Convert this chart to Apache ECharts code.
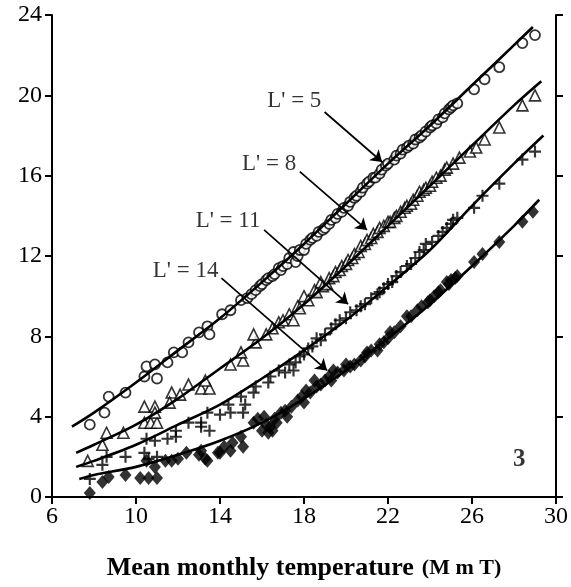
<!DOCTYPE html>
<html><head><meta charset="utf-8">
<script src="https://cdn.jsdelivr.net/npm/echarts@6/dist/echarts.min.js"></script>
<style>html,body{margin:0;padding:0;background:#fff}#c{width:571px;height:587px}</style>
</head><body><div id="c"></div>
<script>
// Tick labels
const xTicks = [6, 10, 14, 18, 22, 26, 30];
const yTicks = [0, 4, 8, 12, 16, 20, 24];

// L' = 5 (open circles)
const circles = [[7.8,3.6],[8.5,4.2],[8.7,5.0],[9.5,5.2],[10.4,6.0],[10.5,6.5],[10.9,6.6],[11.0,5.9],[11.5,6.7],[11.8,7.2],[12.2,7.2],[12.5,7.7],[13.0,8.2],[13.4,8.5],[13.5,8.1],[14.1,9.1],[14.5,9.3],[15.0,9.8],[15.3,9.9],[15.5,10.1],[15.7,10.3],[15.9,10.5],[16.0,10.6],[16.2,10.8],[16.3,10.9],[16.5,11.0],[16.6,11.1],[16.8,11.4],[16.9,11.3],[17.0,11.5],[17.2,11.6],[17.3,11.9],[17.5,12.2],[17.6,11.7],[17.7,12.0],[17.8,12.3],[18.0,12.3],[18.1,12.6],[18.3,12.8],[18.4,12.9],[18.6,13.0],[18.7,13.2],[18.9,13.3],[19.0,13.4],[19.2,13.6],[19.3,13.8],[19.5,13.9],[19.6,14.1],[19.8,14.2],[19.9,14.4],[20.1,14.5],[20.2,14.7],[20.4,14.9],[20.5,15.0],[20.7,15.2],[20.8,15.4],[21.0,15.6],[21.1,15.7],[21.3,15.9],[21.4,15.9],[21.6,16.1],[21.7,16.3],[21.9,16.5],[22.0,16.6],[22.3,16.8],[22.4,17.0],[22.6,17.1],[22.7,17.3],[22.9,17.4],[23.0,17.5],[23.2,17.6],[23.3,17.8],[23.5,17.9],[23.6,18.0],[23.8,18.2],[24.0,18.4],[24.1,18.5],[24.3,18.6],[24.4,18.8],[24.6,18.9],[24.7,19.1],[24.9,19.3],[25.0,19.4],[25.1,19.5],[25.3,19.6],[26.1,20.3],[26.6,20.8],[27.3,21.4],[28.4,22.6],[29.0,23.0]];
// L' = 8 (open triangles)
const triangles = [[7.7,1.8],[8.4,2.6],[8.6,3.2],[9.4,3.2],[10.4,4.5],[10.9,4.5],[10.4,3.7],[10.7,3.7],[11.0,3.7],[10.9,4.2],[11.7,5.2],[11.6,4.7],[12.1,5.1],[12.5,5.6],[13.1,5.4],[13.5,5.4],[13.3,5.8],[14.5,6.6],[15.1,6.8],[15.0,7.2],[15.7,7.7],[15.6,8.1],[16.2,8.1],[16.5,8.4],[16.8,8.7],[17.0,8.8],[17.3,9.1],[17.5,8.8],[17.7,9.5],[17.8,9.4],[18.0,10.0],[18.2,9.8],[18.5,10.3],[18.6,10.2],[18.8,10.7],[18.9,10.5],[19.1,10.6],[19.2,10.9],[19.4,11.0],[19.5,11.2],[19.7,11.3],[19.8,11.5],[20.0,11.6],[20.1,11.8],[20.3,11.9],[20.4,12.1],[20.6,12.2],[20.7,12.5],[20.9,12.6],[21.0,12.8],[21.2,12.9],[21.3,13.1],[21.5,13.2],[21.6,13.4],[21.8,13.5],[22.0,13.7],[22.1,13.7],[22.3,13.9],[22.4,14.0],[22.6,14.2],[22.8,14.4],[22.9,14.5],[23.1,14.6],[23.2,14.8],[23.4,15.0],[23.5,15.2],[23.7,15.3],[23.8,15.4],[24.0,15.5],[24.1,15.7],[24.3,15.9],[24.5,16.0],[24.7,16.3],[24.8,16.4],[25.1,16.6],[25.4,16.9],[25.9,17.2],[26.2,17.4],[26.6,17.8],[27.3,18.4],[28.4,19.5],[29.0,20.0]];
// L' = 11 (plus signs)
const pluses = [[7.8,0.9],[8.4,1.6],[8.6,2.0],[9.5,2.0],[10.4,2.2],[10.6,1.9],[11.0,2.0],[10.5,2.9],[10.9,2.8],[11.5,2.9],[11.9,3.3],[11.9,3.0],[12.5,3.7],[13.1,3.7],[13.1,3.5],[13.4,4.2],[13.5,3.3],[14.0,4.1],[14.5,4.2],[14.4,4.6],[15.1,4.2],[15.2,4.6],[15.0,5.0],[15.6,5.2],[15.7,5.5],[16.3,5.7],[16.4,6.0],[16.8,6.3],[17.1,6.2],[17.3,6.6],[17.5,6.3],[17.6,6.7],[17.8,7.0],[18.0,7.1],[18.2,7.4],[18.4,7.5],[18.6,7.9],[18.8,7.8],[19.0,8.1],[19.3,8.4],[19.5,8.6],[19.7,8.8],[20.0,8.9],[20.2,9.2],[20.5,9.3],[20.7,9.5],[20.9,9.6],[21.2,9.9],[21.5,10.1],[21.6,10.2],[21.8,10.4],[22.0,10.6],[22.2,10.7],[22.4,11.0],[22.6,11.2],[22.9,11.5],[23.1,11.6],[23.3,11.9],[23.5,12.2],[23.7,12.3],[23.8,12.6],[24.1,12.7],[24.4,13.0],[24.6,13.2],[24.8,13.4],[25.0,13.6],[25.1,13.8],[25.3,13.9],[26.1,14.4],[26.5,15.0],[27.3,15.6],[28.4,16.8],[29.0,17.2]];
// L' = 14 (filled diamonds)
const diamonds = [[7.8,0.2],[8.4,0.75],[8.7,1.0],[9.5,1.1],[10.2,0.95],[10.5,1.8],[10.6,0.95],[11.0,0.95],[10.9,1.5],[11.4,1.8],[11.7,1.8],[12.0,1.9],[12.4,2.2],[13.0,2.1],[13.1,2.3],[13.3,1.9],[13.4,1.8],[13.9,2.2],[14.0,2.2],[14.2,2.5],[14.5,2.3],[14.6,2.7],[15.1,2.5],[15.0,3.0],[15.6,3.7],[15.8,3.9],[16.0,3.3],[16.1,4.0],[16.2,3.6],[16.3,3.2],[16.4,3.5],[16.5,3.3],[16.6,3.9],[16.7,3.7],[16.9,4.2],[17.1,4.3],[17.2,4.0],[17.4,4.5],[17.7,4.8],[17.9,5.0],[18.0,4.7],[18.1,5.3],[18.3,5.2],[18.5,5.8],[18.6,5.5],[18.8,5.6],[19.0,5.8],[19.2,6.0],[19.3,5.8],[19.4,6.3],[19.6,6.2],[19.9,6.3],[20.0,6.6],[20.2,6.5],[20.4,6.6],[20.7,6.8],[20.9,7.0],[21.0,7.2],[21.2,7.3],[21.5,7.3],[21.6,7.6],[21.8,7.7],[22.0,7.9],[22.1,8.2],[22.3,8.2],[22.6,8.5],[22.9,9.0],[23.1,9.0],[23.4,9.3],[23.6,9.5],[23.9,9.7],[24.0,9.8],[24.2,10.0],[24.4,10.2],[24.5,10.3],[24.8,10.7],[24.9,10.6],[25.0,10.8],[25.2,10.9],[25.3,11.0],[26.1,11.7],[26.5,12.1],[27.3,12.7],[28.4,13.7],[28.9,14.2]];

// Fitted curves
const fit5  = [[6.95,3.5],[8,4.2],[10,5.7],[12,7.3],[14,8.9],[16,10.7],[18,12.6],[20,14.6],[22,16.6],[24,18.5],[26,20.5],[28,22.5],[28.9,23.4]];
const fit8  = [[7.15,2.2],[8,2.6],[10,3.6],[12,4.9],[14,6.4],[16,7.9],[18,9.6],[20,11.5],[22,13.5],[24,15.5],[26,17.5],[28,19.5],[29.3,20.7]];
const fit11 = [[7.15,1.5],[8,1.8],[10,2.6],[12,3.6],[14,4.6],[16,5.9],[18,7.3],[20,8.8],[22,10.5],[24,12.3],[26,14.5],[28,16.6],[29.4,18.0]];
const fit14 = [[7.3,0.9],[8,1.1],[10,1.5],[12,2.1],[14,2.8],[16,3.7],[18,4.9],[20,6.3],[22,7.9],[24,9.6],[26,11.5],[28,13.5],[29.2,14.8]];

// Annotations
const labelNames = ["L' = 5", "L' = 8", "L' = 11", "L' = 14"];
const labelPos = [[18.85,19.7],[17.65,16.6],[15.95,13.75],[13.95,11.25]];
const arrows = [[[18.98,19.17],[21.72,16.68]],[[17.8,16.2],[21.0,13.3]],[[16.1,13.3],[20.1,9.6]],[[14.07,10.9],[19.1,6.3]]];
const panelLabel = "3";
const panelPos = [28.25,1.84];

const FONT = "Liberation Serif";
const chart = echarts.init(document.getElementById('c'), null, {renderer:'canvas'});
const axisLine = {show:true, lineStyle:{color:'#000', width:2}};
const fitLine = (d) => ({type:'line', data:d, smooth:0.3, symbol:'none', lineStyle:{color:'#000', width:2.6}, z:3, silent:true});
const plusPath = 'path://M0,4.1L10,4.1L10,5.9L0,5.9Z M4.1,0L5.9,0L5.9,10L4.1,10Z';

chart.setOption({
  animation:false,
  grid:{left:52, right:10, top:15, bottom:90},
  xAxis:[{
    type:'value', min:xTicks[0], max:xTicks[xTicks.length-1], interval:4, position:'bottom',
    axisLine, axisTick:{show:true, inside:false, length:7, lineStyle:{color:'#000', width:2}},
    axisLabel:{color:'#000', fontFamily:FONT, fontSize:24, margin:8},
    splitLine:{show:false},
    name:'{a|Mean monthly temperature}{b|(M m T)}', nameLocation:'middle', nameGap:58,
    nameTextStyle:{rich:{a:{fontFamily:FONT, fontSize:26, fontWeight:'bold', color:'#000'}, b:{fontFamily:FONT, fontSize:22, fontWeight:'bold', color:'#000', padding:[0,0,0,8]}}}
  },{
    type:'value', min:xTicks[0], max:xTicks[xTicks.length-1], interval:4, position:'top',
    axisLine, axisTick:{show:true, inside:true, length:6, lineStyle:{color:'#000', width:2}},
    axisLabel:{show:false}, splitLine:{show:false}
  }],
  yAxis:[{
    type:'value', min:yTicks[0], max:yTicks[yTicks.length-1], interval:4, position:'left',
    axisLine, axisTick:{show:true, inside:false, length:7, lineStyle:{color:'#000', width:2}},
    axisLabel:{color:'#000', fontFamily:FONT, fontSize:24, margin:10},
    splitLine:{show:false}
  },{
    type:'value', min:yTicks[0], max:yTicks[yTicks.length-1], interval:4, position:'right',
    axisLine, axisTick:{show:true, inside:false, length:7, lineStyle:{color:'#000', width:2}},
    axisLabel:{show:false}, splitLine:{show:false}
  }],
  series:[
    {type:'scatter', data:circles, symbol:'circle', symbolSize:10, itemStyle:{color:'#fff', borderColor:'#000', borderWidth:1.8}, z:2},
    {type:'scatter', data:triangles, symbol:'triangle', symbolSize:11, itemStyle:{color:'#fff', borderColor:'#000', borderWidth:1.6}, z:2},
    {type:'scatter', data:pluses, symbol:plusPath, symbolSize:12, itemStyle:{color:'#000'}, z:2},
    {type:'scatter', data:diamonds, symbol:'diamond', symbolSize:[12,14], itemStyle:{color:'#000'}, z:2},
    fitLine(fit5), fitLine(fit8), fitLine(fit11), fitLine(fit14),
    {type:'lines', coordinateSystem:'cartesian2d', polyline:false, symbol:['none','arrow'], symbolSize:11,
     lineStyle:{color:'#000', width:1.7, opacity:1}, z:4, silent:true,
     data: arrows.map(a => ({coords:a}))},
    {type:'scatter', symbolSize:1, itemStyle:{color:'rgba(0,0,0,0)'}, silent:true, z:5,
     data: labelNames.map((n,i) => ({name:n, value:labelPos[i]})),
     label:{show:true, position:'left', distance:0, formatter:p=>p.name, color:'#000', fontFamily:FONT, fontSize:23}},
    {type:'scatter', symbolSize:1, itemStyle:{color:'rgba(0,0,0,0)'}, silent:true, z:5,
     data:[{name:panelLabel, value:panelPos}],
     label:{show:true, position:'inside', formatter:p=>p.name, color:'#000', fontFamily:FONT, fontSize:25, fontWeight:'bold'}}
  ]
});
</script></body></html>
